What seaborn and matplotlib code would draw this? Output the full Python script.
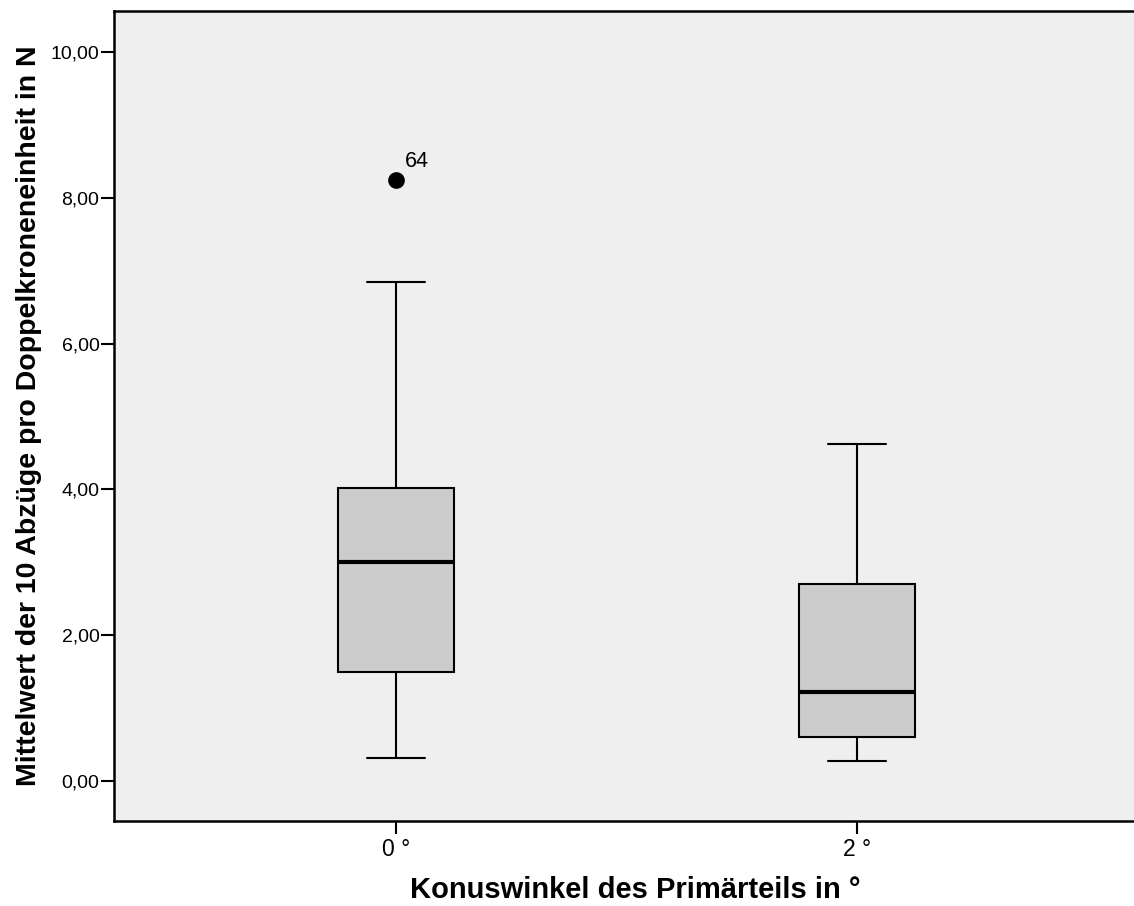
import matplotlib
matplotlib.use("Agg")
import matplotlib.pyplot as plt
import seaborn as sns
import pandas as pd

# Data (inner points chosen to reproduce the quartiles)
categories = ["0 °", "2 °"]
group_0 = [0.32, 1.00, 1.50, 2.40, 3.00, 3.60, 4.02, 6.85, 8.25]
group_2 = [0.28, 0.45, 0.60, 0.90, 1.22, 2.00, 2.70, 3.50, 4.62]
outlier_label = "64"
outlier_value = 8.25
y_ticks = [0, 2, 4, 6, 8, 10]
y_ticklabels = ["0,00", "2,00", "4,00", "6,00", "8,00", "10,00"]

df = pd.DataFrame({
    "Konuswinkel": [categories[0]] * len(group_0) + [categories[1]] * len(group_2),
    "Wert": group_0 + group_2,
})

sns.set_style("white")
plt.rcParams["font.family"] = ["Liberation Sans", "DejaVu Sans"]
plt.rcParams["text.color"] = "black"
plt.rcParams["axes.labelcolor"] = "black"

fig = plt.figure(figsize=(11.34, 9.06), dpi=100)
ax = fig.add_axes([114 / 1134, 85 / 906, 1 - 114 / 1134, (821 - 11) / 906])
ax.set_facecolor("#efefef")

sns.boxplot(
    data=df, x="Konuswinkel", y="Wert", order=categories, ax=ax,
    width=0.25, color="#cccccc", saturation=1, whis=1.5,
    linewidth=1.5, linecolor="black",
    medianprops=dict(color="black", linewidth=3),
    flierprops=dict(marker="o", markerfacecolor="black", markeredgecolor="black",
                    markersize=11),
    boxprops=dict(edgecolor="black"),
)

ax.text(0.02, outlier_value + 0.11, outlier_label, fontsize=15.5, ha="left", va="bottom",
        color="black")

ax.set_xlim(-0.6117, 1.601)
ax.set_ylim(-0.549, 10.563)
ax.set_yticks(y_ticks)
ax.set_yticklabels(y_ticklabels)
ax.tick_params(axis="both", which="both", direction="out", length=9.5, width=1.5,
               color="black", labelcolor="black", left=True, bottom=True)
ax.tick_params(axis="x", pad=3, labelsize=16.5)
ax.tick_params(axis="y", pad=1, labelsize=14)

for side in ["top", "left", "bottom"]:
    ax.spines[side].set_visible(True)
    ax.spines[side].set_color("black")
    ax.spines[side].set_linewidth(1.8)
ax.spines["right"].set_visible(False)

ax.set_xlabel("Konuswinkel des Primärteils in °", fontsize=21, fontweight="bold",
              color="black")
ax.xaxis.set_label_coords((635 - 114) / 1020, -(890 - 821) / 810)
ax.xaxis.label.set_va("center")
ax.set_ylabel("Mittelwert der 10 Abzüge pro Doppelkroneneinheit in N", fontsize=20.5,
              fontweight="bold", labelpad=6, color="black")

fig.savefig("out.png", dpi=100, facecolor="white")
